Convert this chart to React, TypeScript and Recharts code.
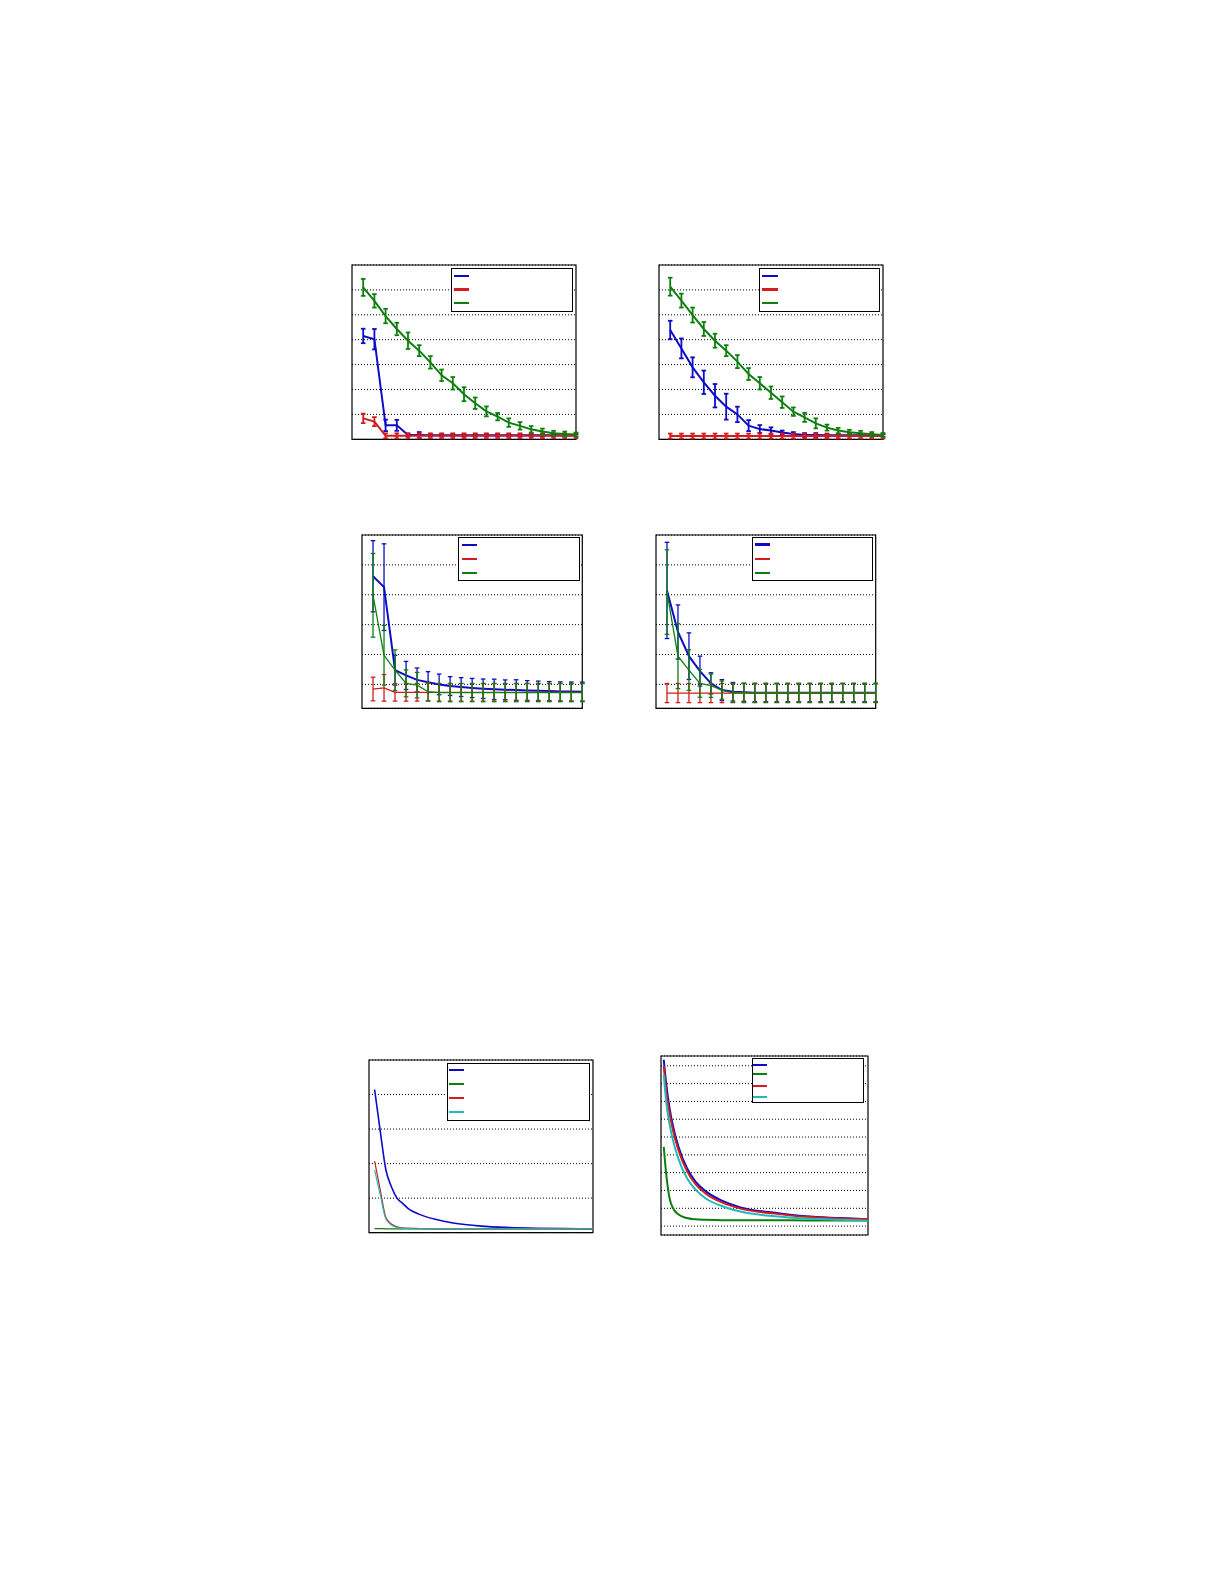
import React from 'react'
import { LineChart, Line, XAxis, YAxis, CartesianGrid, ErrorBar, ReferenceArea } from 'recharts'

const BLUE = '#0c0cc8'
const RED = '#d41c1c'
const GREEN = '#0e7f0e'
const CYAN = '#1fbaba'

// panels 1-4 share the same 20 steps on x
const steps = [1, 2, 3, 4, 5, 6, 7, 8, 9, 10, 11, 12, 13, 14, 15, 16, 17, 18, 19, 20]
const stepTicks = [0, 5, 10, 15, 20]

// panel 1 (top left)
const blue1 = [4.15, 4.02, 0.56, 0.56, 0.17, 0.17, 0.16, 0.16, 0.16, 0.16, 0.16, 0.16, 0.16, 0.16, 0.16, 0.16, 0.16, 0.16, 0.16, 0.16]
const blue1Err = [0.29, 0.41, 0.23, 0.22, 0.06, 0.12, 0.05, 0.05, 0.05, 0.05, 0.05, 0.05, 0.05, 0.05, 0.05, 0.05, 0.05, 0.05, 0.05, 0.05]
const red1 = [0.84, 0.71, 0.14, 0.14, 0.14, 0.14, 0.14, 0.14, 0.14, 0.14, 0.14, 0.14, 0.14, 0.14, 0.14, 0.14, 0.14, 0.14, 0.14, 0.14]
const red1Err = [0.19, 0.18, 0.1, 0.1, 0.1, 0.1, 0.1, 0.1, 0.1, 0.1, 0.1, 0.1, 0.1, 0.1, 0.1, 0.1, 0.1, 0.1, 0.1, 0.1]
const green1 = [6.1, 5.56, 4.95, 4.43, 3.96, 3.56, 3.09, 2.57, 2.25, 1.81, 1.45, 1.12, 0.91, 0.67, 0.54, 0.4, 0.31, 0.24, 0.21, 0.19]
const green1Err = [0.34, 0.27, 0.29, 0.25, 0.33, 0.22, 0.25, 0.23, 0.25, 0.28, 0.23, 0.2, 0.15, 0.17, 0.15, 0.13, 0.12, 0.1, 0.1, 0.08]

// panel 2 (top right)
const blue2 = [4.39, 3.65, 2.89, 2.29, 1.75, 1.31, 1.0, 0.55, 0.41, 0.35, 0.27, 0.21, 0.17, 0.17, 0.16, 0.16, 0.16, 0.16, 0.16, 0.16]
const blue2Err = [0.37, 0.4, 0.4, 0.47, 0.47, 0.52, 0.31, 0.22, 0.16, 0.13, 0.08, 0.08, 0.08, 0.08, 0.06, 0.05, 0.05, 0.05, 0.05, 0.05]
const red2 = [0.13, 0.13, 0.13, 0.13, 0.13, 0.13, 0.13, 0.13, 0.13, 0.13, 0.13, 0.13, 0.13, 0.13, 0.13, 0.13, 0.13, 0.13, 0.13, 0.13]
const red2Err = [0.1, 0.1, 0.1, 0.1, 0.1, 0.1, 0.1, 0.1, 0.1, 0.1, 0.1, 0.1, 0.1, 0.1, 0.1, 0.1, 0.1, 0.1, 0.1, 0.1]
const green2 = [6.13, 5.57, 4.99, 4.43, 3.96, 3.56, 3.12, 2.62, 2.25, 1.87, 1.49, 1.11, 0.88, 0.64, 0.47, 0.35, 0.28, 0.24, 0.2, 0.17]
const green2Err = [0.36, 0.28, 0.3, 0.28, 0.28, 0.22, 0.26, 0.24, 0.25, 0.25, 0.23, 0.17, 0.18, 0.2, 0.12, 0.11, 0.1, 0.1, 0.09, 0.08]

// panel 3 (middle left)
const blue3 = [0.724, 0.651, 0.095, 0.06, 0.03, 0.015, 0.0, -0.011, -0.018, -0.024, -0.029, -0.033, -0.036, -0.038, -0.041, -0.043, -0.045, -0.047, -0.048, -0.049]
const blue3Err = [0.238, 0.29, 0.1, 0.094, 0.08, 0.07, 0.069, 0.063, 0.063, 0.064, 0.065, 0.068, 0.066, 0.069, 0.066, 0.065, 0.064, 0.064, 0.064, 0.064]
const red3 = [-0.031, -0.023, -0.053, -0.053, -0.053, -0.053, -0.053, -0.053, -0.053, -0.053, -0.053, -0.053, -0.053, -0.053, -0.053, -0.053, -0.053, -0.053, -0.053, -0.053]
const red3Err = [0.079, 0.089, 0.059, 0.059, 0.059, 0.059, 0.059, 0.059, 0.059, 0.059, 0.059, 0.059, 0.059, 0.059, 0.059, 0.059, 0.059, 0.059, 0.059, 0.059]
const green3 = [0.596, 0.195, 0.095, 0.007, -0.005, -0.049, -0.055, -0.055, -0.055, -0.055, -0.055, -0.055, -0.055, -0.055, -0.055, -0.055, -0.055, -0.055, -0.055, -0.055]
const green3Err = [0.28, 0.2, 0.136, 0.09, 0.085, 0.061, 0.061, 0.061, 0.061, 0.061, 0.061, 0.061, 0.061, 0.061, 0.061, 0.061, 0.061, 0.061, 0.061, 0.061]

// panel 4 (middle right)
const blue4 = [0.629, 0.351, 0.189, 0.089, 0.007, -0.038, -0.049, -0.053, -0.056, -0.056, -0.056, -0.056, -0.056, -0.056, -0.056, -0.056, -0.056, -0.056, -0.056, -0.056]
const blue4Err = [0.322, 0.181, 0.156, 0.1, 0.071, 0.07, 0.062, 0.06, 0.06, 0.06, 0.06, 0.06, 0.06, 0.06, 0.06, 0.06, 0.06, 0.06, 0.06, 0.06]
const red4 = [-0.058, -0.058, -0.058, -0.058, -0.058, -0.058, -0.058, -0.058, -0.058, -0.058, -0.058, -0.058, -0.058, -0.058, -0.058, -0.058, -0.058, -0.058, -0.058, -0.058]
const red4Err = [0.064, 0.064, 0.064, 0.064, 0.064, 0.064, 0.064, 0.064, 0.064, 0.064, 0.064, 0.064, 0.064, 0.064, 0.064, 0.064, 0.064, 0.064, 0.064, 0.064]
const green4 = [0.618, 0.189, 0.096, 0.007, -0.009, -0.038, -0.056, -0.056, -0.056, -0.056, -0.056, -0.056, -0.056, -0.056, -0.056, -0.056, -0.056, -0.056, -0.056, -0.056]
const green4Err = [0.283, 0.217, 0.136, 0.093, 0.078, 0.061, 0.064, 0.064, 0.064, 0.064, 0.064, 0.064, 0.064, 0.064, 0.064, 0.064, 0.064, 0.064, 0.064, 0.064]

// panel 5 (bottom left)
const x5 = [5, 10, 15, 20, 25, 30, 35, 45, 60, 75, 100, 125, 150, 175, 200]
const blue5 = [4.14, 2.95, 1.83, 1.33, 1.0, 0.85, 0.7, 0.53, 0.38, 0.28, 0.19, 0.15, 0.13, 0.12, 0.11]
const green5 = [0.12, 0.12, 0.11, 0.11, 0.11, 0.11, 0.11, 0.11, 0.11, 0.11, 0.11, 0.11, 0.11, 0.11, 0.11]
const red5 = [2.07, 1.25, 0.45, 0.25, 0.17, 0.14, 0.13, 0.12, 0.11, 0.11, 0.11, 0.11, 0.11, 0.11, 0.11]
const cyan5 = [1.81, 1.1, 0.4, 0.22, 0.15, 0.13, 0.12, 0.11, 0.11, 0.11, 0.11, 0.11, 0.11, 0.11, 0.11]

// panel 6 (bottom right)
const x6 = [8, 15, 25, 35, 50, 75, 100, 130, 180, 230, 330, 420, 520, 600]
const blue6 = [9.34, 8.0, 6.6, 5.6, 4.5, 3.26, 2.5, 1.95, 1.4, 1.05, 0.75, 0.55, 0.45, 0.38]
const green6 = [4.45, 2.95, 1.55, 1.0, 0.66, 0.45, 0.38, 0.35, 0.33, 0.33, 0.33, 0.32, 0.32, 0.32]
const red6 = [9.0, 7.6, 6.3, 5.35, 4.3, 3.1, 2.35, 1.82, 1.3, 0.98, 0.7, 0.52, 0.43, 0.38]
const cyan6 = [8.5, 7.0, 5.7, 4.8, 3.8, 2.7, 2.05, 1.55, 1.1, 0.82, 0.55, 0.42, 0.35, 0.3]

const TICK = 3.5
const PAD = 6

type Series = { key: string; color: string; w: number; err?: string; errW?: number; curve?: 'linear' | 'monotone' }
type Box = { x: number; y: number; w: number; h: number }
type LegendRow = { y: number; color: string; w: number }

const xTick = (h: number) => (p: any) => (
  <g>
    <line x1={p.x} y1={p.y} x2={p.x} y2={p.y - TICK} stroke="#000" />
    <line x1={p.x} y1={p.y - h} x2={p.x} y2={p.y - h + TICK} stroke="#000" />
  </g>
)

const yTick = (w: number) => (p: any) => (
  <g>
    <line x1={p.x} y1={p.y} x2={p.x + TICK} y2={p.y} stroke="#000" />
    <line x1={p.x + w} y1={p.y} x2={p.x + w - TICK} y2={p.y} stroke="#000" />
  </g>
)

function Panel(props: {
  frame: Box
  data: any[]
  xDomain: [number, number]
  xTicks: number[]
  yDomain: [number, number]
  yTicks: number[]
  series: Series[]
  legend: Box
  rows: LegendRow[]
  sample: [number, number]
}) {
  const { frame, data, xDomain, xTicks, yDomain, yTicks, series, legend, rows, sample } = props
  return (
    <>
      <div style={{ position: 'absolute', left: frame.x - PAD, top: frame.y - PAD }}>
        <LineChart
          width={frame.w + PAD * 2}
          height={frame.h + PAD * 2}
          data={data}
          margin={{ top: PAD, right: PAD, bottom: PAD, left: PAD }}
        >
          <CartesianGrid vertical={false} stroke="#000" strokeDasharray="1 2" />
          <XAxis
            dataKey="x"
            type="number"
            domain={xDomain}
            ticks={xTicks}
            interval={0}
            height={0}
            tickSize={0}
            tickMargin={0}
            axisLine={false}
            tickLine={false}
            tick={xTick(frame.h)}
            allowDataOverflow
          />
          <YAxis
            type="number"
            domain={yDomain}
            ticks={yTicks}
            interval={0}
            width={0}
            tickSize={0}
            tickMargin={0}
            axisLine={false}
            tickLine={false}
            tick={yTick(frame.w)}
            allowDataOverflow
          />
          {series.map((s) => (
            <Line
              key={s.key}
              dataKey={s.key}
              type={s.curve ?? 'linear'}
              stroke={s.color}
              strokeWidth={s.w}
              dot={false}
              activeDot={false}
              isAnimationActive={false}
            >
              {s.err ? (
                <ErrorBar
                  dataKey={s.err}
                  width={2.3}
                  stroke={s.color}
                  strokeWidth={s.errW ?? 1.5}
                  direction="y"
                  isAnimationActive={false}
                />
              ) : null}
            </Line>
          ))}
          <ReferenceArea
            x1={xDomain[0]}
            x2={xDomain[1]}
            y1={yDomain[0]}
            y2={yDomain[1]}
            fill="none"
            fillOpacity={0}
            stroke="#000"
            strokeWidth={1.2}
          />
        </LineChart>
      </div>
      <div
        style={{
          position: 'absolute',
          left: legend.x,
          top: legend.y,
          width: legend.w,
          height: legend.h,
          boxSizing: 'border-box',
          border: '1px solid #000',
          background: '#fff',
        }}
      >
        {rows.map((r, i) => (
          <div
            key={i}
            style={{
              position: 'absolute',
              left: sample[0] - 1,
              top: r.y - r.w / 2 - 1,
              width: sample[1] - sample[0],
              height: r.w,
              background: r.color,
            }}
          />
        ))}
      </div>
    </>
  )
}

const rowsOf20 = (b: number[], be: number[], r: number[], re: number[], g: number[], ge: number[]) =>
  steps.map((x, i) => ({ x, b: b[i], be: be[i], r: r[i], re: re[i], g: g[i], ge: ge[i] }))

const data1 = rowsOf20(blue1, blue1Err, red1, red1Err, green1, green1Err)
const data2 = rowsOf20(blue2, blue2Err, red2, red2Err, green2, green2Err)
const data3 = rowsOf20(blue3, blue3Err, red3, red3Err, green3, green3Err)
const data4 = rowsOf20(blue4, blue4Err, red4, red4Err, green4, green4Err)
const data5 = x5.map((x, i) => ({ x, b: blue5[i], g: green5[i], r: red5[i], c: cyan5[i] }))
const data6 = x6.map((x, i) => ({ x, b: blue6[i], g: green6[i], r: red6[i], c: cyan6[i] }))

const topSeries: Series[] = [
  { key: 'b', color: BLUE, w: 2, err: 'be', errW: 1.8 },
  { key: 'r', color: RED, w: 2, err: 're', errW: 1.8 },
  { key: 'g', color: GREEN, w: 2, err: 'ge', errW: 1.8 },
]
const midSeries: Series[] = [
  { key: 'b', color: BLUE, w: 2, err: 'be', errW: 1.3 },
  { key: 'r', color: RED, w: 1.3, err: 're', errW: 1.3 },
  { key: 'g', color: GREEN, w: 1.3, err: 'ge', errW: 1.3 },
]
const lowSeries5: Series[] = [
  { key: 'b', color: BLUE, w: 1.6, curve: 'monotone' },
  { key: 'g', color: GREEN, w: 1.2, curve: 'monotone' },
  { key: 'r', color: RED, w: 1.2, curve: 'monotone' },
  { key: 'c', color: CYAN, w: 1.2, curve: 'monotone' },
]
const lowSeries6: Series[] = [
  { key: 'b', color: BLUE, w: 2, curve: 'monotone' },
  { key: 'g', color: GREEN, w: 2, curve: 'monotone' },
  { key: 'r', color: RED, w: 2, curve: 'monotone' },
  { key: 'c', color: CYAN, w: 2, curve: 'monotone' },
]

const ticks7 = [0, 1, 2, 3, 4, 5, 6, 7]
const ticksMid = [0, 0.2, 0.4, 0.6, 0.8, 1.0]
const ticks5 = [0, 1, 2, 3, 4, 5]
const ticks9 = [0, 1, 2, 3, 4, 5, 6, 7, 8, 9]

export default function App() {
  return (
    <div style={{ position: 'absolute', left: 0, top: 0, width: 1225, height: 1585, background: '#fff' }}>
      <Panel
        frame={{ x: 351.7, y: 265, w: 224, h: 174.3 }}
        data={data1}
        xDomain={[0, 20]}
        xTicks={stepTicks}
        yDomain={[0, 7]}
        yTicks={ticks7}
        series={topSeries}
        legend={{ x: 451, y: 268.3, w: 122.3, h: 43.7 }}
        rows={[
          { y: 7.4, color: BLUE, w: 2.2 },
          { y: 21.2, color: RED, w: 2.2 },
          { y: 35, color: GREEN, w: 2.2 },
        ]}
        sample={[3, 18.3]}
      />
      <Panel
        frame={{ x: 659.3, y: 265, w: 224, h: 174.3 }}
        data={data2}
        xDomain={[0, 20]}
        xTicks={stepTicks}
        yDomain={[0, 7]}
        yTicks={ticks7}
        series={topSeries}
        legend={{ x: 759.3, y: 268.3, w: 121, h: 43.7 }}
        rows={[
          { y: 7.4, color: BLUE, w: 2.2 },
          { y: 21.2, color: RED, w: 2.2 },
          { y: 35, color: GREEN, w: 2.2 },
        ]}
        sample={[3, 18.3]}
      />
      <Panel
        frame={{ x: 362.3, y: 535, w: 220.3, h: 173.3 }}
        data={data3}
        xDomain={[0, 20]}
        xTicks={stepTicks}
        yDomain={[-0.16, 1.0]}
        yTicks={ticksMid}
        series={midSeries}
        legend={{ x: 458.3, y: 537.3, w: 122, h: 44 }}
        rows={[
          { y: 7.4, color: BLUE, w: 2.2 },
          { y: 21.7, color: RED, w: 1.3 },
          { y: 35.7, color: GREEN, w: 1.3 },
        ]}
        sample={[3.4, 18.4]}
      />
      <Panel
        frame={{ x: 656, y: 535, w: 219.7, h: 173.3 }}
        data={data4}
        xDomain={[0, 20]}
        xTicks={stepTicks}
        yDomain={[-0.16, 1.0]}
        yTicks={ticksMid}
        series={midSeries}
        legend={{ x: 752.3, y: 537.3, w: 121, h: 44 }}
        rows={[
          { y: 7.2, color: BLUE, w: 2.2 },
          { y: 21.7, color: RED, w: 1.3 },
          { y: 35.7, color: GREEN, w: 1.3 },
        ]}
        sample={[2.7, 17.7]}
      />
      <Panel
        frame={{ x: 369.3, y: 1060, w: 224, h: 172.7 }}
        data={data5}
        xDomain={[0, 200]}
        xTicks={[0, 50, 100, 150, 200]}
        yDomain={[0, 5]}
        yTicks={ticks5}
        series={lowSeries5}
        legend={{ x: 446.7, y: 1062.7, w: 143.3, h: 58.3 }}
        rows={[
          { y: 7.3, color: BLUE, w: 2.2 },
          { y: 21.3, color: GREEN, w: 1.3 },
          { y: 35.3, color: RED, w: 1.3 },
          { y: 49.3, color: CYAN, w: 1.3 },
        ]}
        sample={[2.6, 17.3]}
      />
      <Panel
        frame={{ x: 660.7, y: 1056, w: 207, h: 179 }}
        data={data6}
        xDomain={[0, 600]}
        xTicks={[0, 100, 200, 300, 400, 500, 600]}
        yDomain={[-0.5, 9.55]}
        yTicks={ticks9}
        series={lowSeries6}
        legend={{ x: 751.7, y: 1058.3, w: 112.6, h: 45 }}
        rows={[
          { y: 6.7, color: BLUE, w: 2.2 },
          { y: 16, color: GREEN, w: 2.2 },
          { y: 27.4, color: RED, w: 2.2 },
          { y: 38.4, color: CYAN, w: 2.2 },
        ]}
        sample={[1.6, 15]}
      />
    </div>
  )
}
